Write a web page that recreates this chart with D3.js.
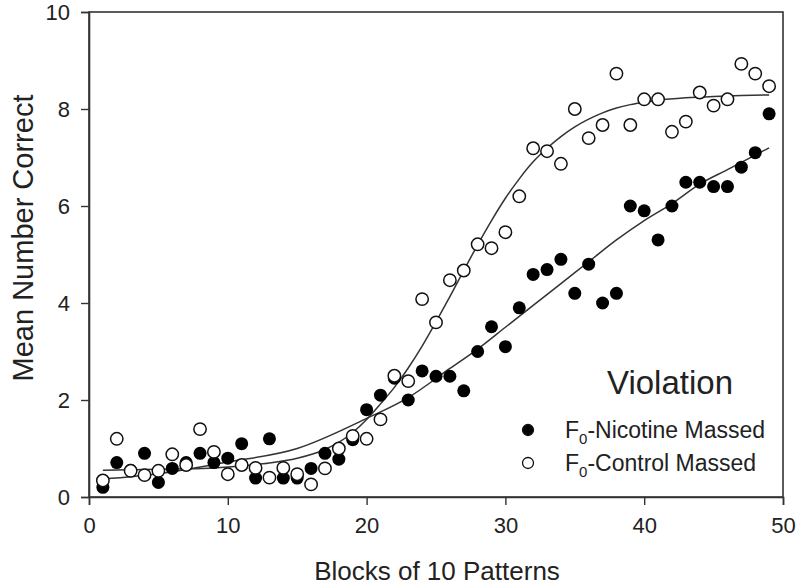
<!DOCTYPE html>
<html><head><meta charset="utf-8">
<script src="https://cdn.jsdelivr.net/npm/d3@7"></script>
<style>body{margin:0;background:#fff}svg{display:block}</style>
</head><body>
<svg id="chart" width="800" height="587"></svg>
<script>
const blocks = d3.range(1, 50);
const nicotine = [0.2,0.71,0.55,0.9,0.3,0.59,0.71,0.9,0.71,0.8,1.1,0.39,1.2,0.39,0.39,0.59,0.9,0.78,1.18,1.8,2.1,2.45,2.0,2.6,2.49,2.49,2.19,3.0,3.51,3.1,3.9,4.59,4.69,4.9,4.2,4.8,4.0,4.2,6.0,5.9,5.3,6.0,6.49,6.49,6.4,6.4,6.8,7.1,7.9];
const control = [0.34,1.2,0.54,0.45,0.54,0.88,0.66,1.4,0.93,0.47,0.66,0.6,0.4,0.6,0.47,0.26,0.59,1.0,1.26,1.2,1.6,2.5,2.39,4.08,3.6,4.47,4.67,5.21,5.13,5.46,6.2,7.19,7.13,6.87,8.0,7.4,7.67,8.73,7.67,8.2,8.2,7.53,7.74,8.34,8.07,8.2,8.93,8.73,8.47];
const fitNicX = [1,5,10,15,20,23,26,28,30,32,34,36,38,40,42,44,46,48,49];
const fitNicY = [0.37,0.48,0.72,1.0,1.62,2.05,2.65,3.05,3.5,3.95,4.4,4.85,5.3,5.7,6.05,6.45,6.75,7.05,7.2];
const fitConX = [1,3,5,7,9,11,13,15,17,19,20,21,22,23,24,25,26,27,28,29,30,31,32,33,34,35,36,37,38,39,40,41,43,45,47,49];
const fitConY = [0.55,0.56,0.57,0.58,0.6,0.64,0.7,0.8,0.98,1.33,1.6,1.92,2.26,2.66,3.11,3.61,4.13,4.67,5.2,5.7,6.16,6.56,6.91,7.19,7.43,7.63,7.79,7.92,8.02,8.09,8.14,8.18,8.23,8.26,8.28,8.29];
const xTicks = [0,10,20,30,40,50];
const yTicks = [0,2,4,6,8,10];
const xTitle = "Blocks of 10 Patterns";
const yTitle = "Mean Number Correct";
const legendTitle = "Violation";
const seriesNames = ["-Nicotine Massed", "-Control Massed"];

const svg = d3.select("#chart");
const L = 89, R = 783, T = 12, B = 497;
const x = d3.scaleLinear().domain([0,50]).range([L,R]);
const y = d3.scaleLinear().domain([0,10]).range([B,T]);
const font = "Arial, 'Liberation Sans', sans-serif";
const axisCol = "#333";

// frame
svg.append("rect").attr("x",L).attr("y",T).attr("width",R-L).attr("height",B-T)
  .attr("fill","none").attr("stroke",axisCol).attr("stroke-width",1.6);

const xa = svg.append("g").attr("transform",`translate(0,${B})`)
  .call(d3.axisBottom(x).tickValues(xTicks).tickSize(8).tickPadding(12).tickFormat(d3.format("d")));
const ya = svg.append("g").attr("transform",`translate(${L},0)`)
  .call(d3.axisLeft(y).tickValues(yTicks).tickSize(8).tickPadding(11).tickFormat(d3.format("d")));
[xa,ya].forEach(g=>{
  g.select(".domain").attr("stroke",axisCol).attr("stroke-width",1.6);
  g.selectAll(".tick line").attr("stroke",axisCol).attr("stroke-width",1.4);
  g.selectAll(".tick text").attr("fill","#222").style("font-family",font).style("font-size","22px");
});
ya.selectAll(".tick text").attr("dy","0.36em");

// fitted curves
const line = d3.line().x(d=>x(d[0])).y(d=>y(d[1])).curve(d3.curveMonotoneX);
svg.append("path").datum(fitNicX.map((v,i)=>[v,fitNicY[i]])).attr("d",line)
  .attr("fill","none").attr("stroke","#333").attr("stroke-width",1.5);
svg.append("path").datum(fitConX.map((v,i)=>[v,fitConY[i]])).attr("d",line)
  .attr("fill","none").attr("stroke","#333").attr("stroke-width",1.5);

// points
svg.append("g").selectAll("circle").data(blocks.map((b,i)=>[b,nicotine[i]])).join("circle")
  .attr("cx",d=>x(d[0])).attr("cy",d=>y(d[1])).attr("r",6.5)
  .attr("fill","#000");
svg.append("g").selectAll("circle").data(blocks.map((b,i)=>[b,control[i]])).join("circle")
  .attr("cx",d=>x(d[0])).attr("cy",d=>y(d[1])).attr("r",6.2)
  .attr("fill","#fff").attr("stroke","#111").attr("stroke-width",1.5);

// titles
svg.append("text").attr("x",(L+R)/2 + 1).attr("y",580).attr("text-anchor","middle")
  .style("font-family",font).style("font-size","26px").attr("fill","#222").text(xTitle);
svg.append("text").attr("transform",`translate(33,238) rotate(-90)`).attr("text-anchor","middle")
  .style("font-family",font).style("font-size","29px").attr("fill","#222").text(yTitle);

// legend
svg.append("text").attr("x",670).attr("y",394).attr("text-anchor","middle")
  .style("font-family",font).style("font-size","33px").attr("fill","#222").text(legendTitle);
const leg = [{y:430, filled:true, name:seriesNames[0]},{y:463, filled:false, name:seriesNames[1]}];
leg.forEach(e=>{
  svg.append("circle").attr("cx",528).attr("cy",e.y).attr("r",5.5)
    .attr("fill",e.filled?"#000":"#fff").attr("stroke","#111").attr("stroke-width",1.3);
  const t = svg.append("text").attr("x",565).attr("y",e.y+8)
    .style("font-family",font).style("font-size","23px").attr("fill","#222");
  t.append("tspan").text("F");
  t.append("tspan").attr("dy",6).style("font-size","15px").text("0");
  t.append("tspan").attr("dy",-6).text(e.name);
});
</script>
</body></html>
